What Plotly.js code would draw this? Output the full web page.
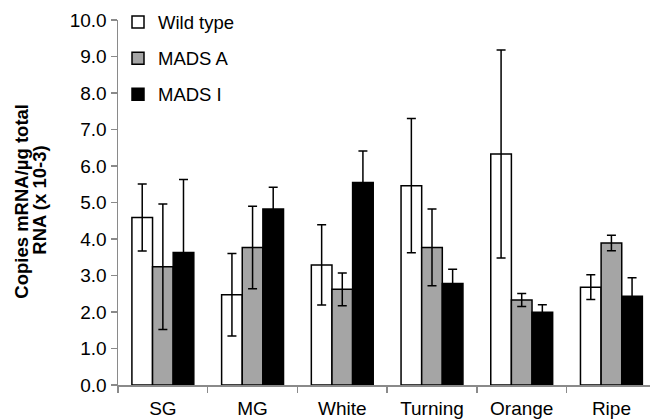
<!DOCTYPE html>
<html><head><meta charset="utf-8">
<script src="https://cdn.plot.ly/plotly-3.0.1.min.js"></script>
<style>body{margin:0;padding:0;background:#fff}#chart{width:650px;height:419px}</style>
</head><body><div id="chart"></div>
<script>
const categories = ["SG", "MG", "White", "Turning", "Orange", "Ripe"];
const seriesNames = ["Wild type", "MADS A", "MADS I"];
const wildType = [4.59, 2.47, 3.29, 5.46, 6.33, 2.68];
const wildTypeErr = [0.92, 1.13, 1.10, 1.84, 2.85, 0.34];
const madsA = [3.24, 3.77, 2.62, 3.77, 2.33, 3.89];
const madsAErr = [1.72, 1.13, 0.45, 1.05, 0.18, 0.21];
const madsI = [3.63, 4.82, 5.55, 2.78, 1.99, 2.43];
const madsIErr = [2.00, 0.60, 0.86, 0.39, 0.21, 0.51];
const yTicks = [0,1,2,3,4,5,6,7,8,9,10];
const yTickLabels = yTicks.map(v => v.toFixed(1));
const yTitleLines = ["Copies mRNA/µg total", "RNA (x 10-3)"];

const values = [wildType, madsA, madsI];
const errs = [wildTypeErr, madsAErr, madsIErr];
const fills = ["#ffffff", "#a5a5a5", "#000000"];

const traces = seriesNames.map((name, i) => ({
  type: "bar",
  name: name,
  legendgroup: "g" + i,
  x: categories,
  y: values[i],
  marker: {color: fills[i], line: {color: "#000", width: 1.5}},
  error_y: {type: "data", array: errs[i], visible: true, color: "#000", thickness: 1.5, width: 4.5}
}));

const layout = {
  width: 650, height: 419,
  margin: {l: 118, r: 0, t: 20, b: 34},
  paper_bgcolor: "#fff", plot_bgcolor: "#fff",
  font: {family: "Liberation Sans, Arial, sans-serif", size: 19, color: "#000"},
  barmode: "group",
  bargap: 0.31,
  bargroupgap: 0,
  showlegend: true,
  legend: {x: 0.0, y: 1.045, xanchor: "left", yanchor: "top", bgcolor: "rgba(0,0,0,0)",
           font: {size: 18.5}, itemwidth: 30, tracegroupgap: 9, traceorder: "grouped"},
  xaxis: {
    range: [-0.5, 5.43], showline: true, linecolor: "#8a8a8a", linewidth: 1.5,
    ticks: "outside", tickson: "boundaries", ticklen: 6, tickcolor: "#8a8a8a", tickwidth: 1.5,
    tickfont: {size: 19}, ticklabelstandoff: 6, showgrid: false, zeroline: false, fixedrange: true
  },
  yaxis: {
    range: [0, 10], tickvals: yTicks, ticktext: yTickLabels,
    showline: true, linecolor: "#8a8a8a", linewidth: 1.5,
    ticks: "outside", ticklen: 6, tickcolor: "#8a8a8a", tickwidth: 1.5,
    tickfont: {size: 19}, showgrid: false, zeroline: false
  },
  annotations: yTitleLines.map((t, i) => ({
    text: "<b>" + t + "</b>", xref: "paper", yref: "paper",
    x: i === 0 ? -0.1805 : -0.1466, y: 0.505, xanchor: "center", yanchor: "middle",
    textangle: -90, showarrow: false, font: {size: 18.5, color: "#000"}
  }))
};

Plotly.newPlot("chart", traces, layout, {staticPlot: true, displayModeBar: false});
</script></body></html>
